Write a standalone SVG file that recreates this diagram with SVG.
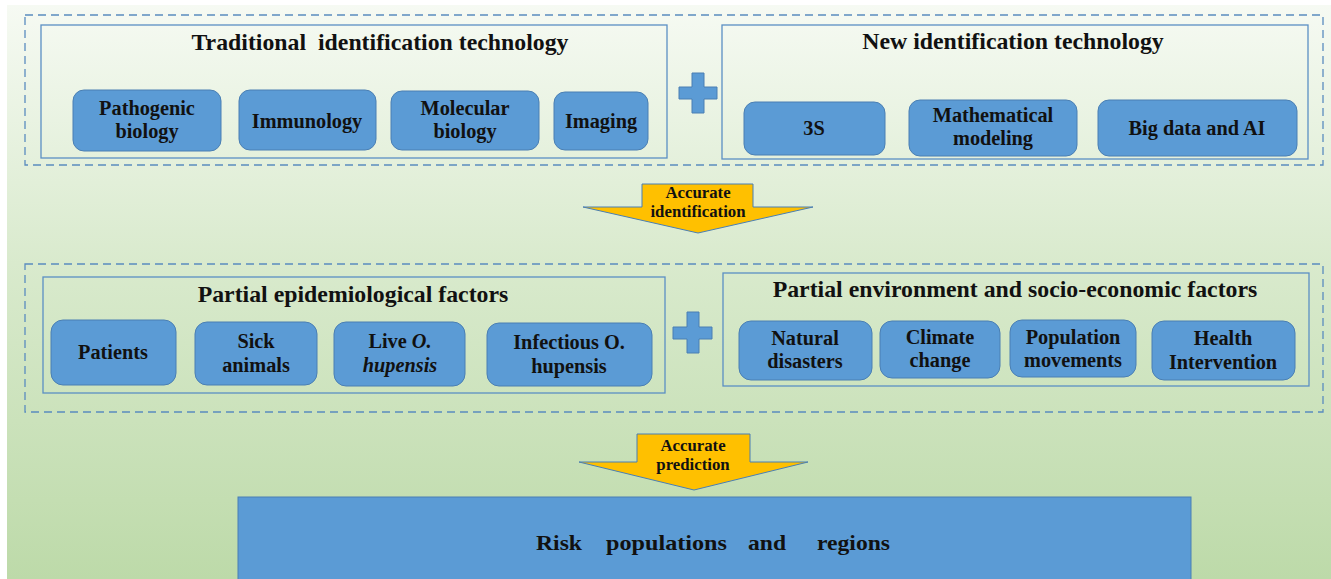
<svg xmlns="http://www.w3.org/2000/svg" width="1331" height="579" viewBox="0 0 1331 579">
  <defs>
    <linearGradient id="bg" x1="0" y1="0" x2="0" y2="1">
      <stop offset="0" stop-color="#f6faf3"/>
      <stop offset="0.45" stop-color="#d9eacd"/>
      <stop offset="1" stop-color="#bddaa9"/>
    </linearGradient>
    <style>
      .dash { fill: none; stroke: #5a8cbf; stroke-width: 1.3; stroke-dasharray: 8 5; }
      .panel { fill: none; stroke: #5b8fc4; stroke-width: 1.3; }
      .node { fill: #5b9bd5; stroke: #4a7fb3; stroke-width: 1; }
      .plus { fill: #5b9bd5; stroke: #4a7fb3; stroke-width: 1; }
      .arrow { fill: #ffc000; stroke: #4a7fb3; stroke-width: 1; }
      text { font-family: "Liberation Serif", "Times New Roman", serif; font-weight: bold; fill: #111; text-anchor: middle; }
      .title { font-size: 23.8px; }
      .label { font-size: 20.3px; }
      .small { font-size: 16.8px; }
      .big { font-size: 21px; text-anchor: start; }
      .it { font-style: italic; }
    </style>
  </defs>

  <!-- page background -->
  <rect x="0" y="0" width="1331" height="579" fill="#ffffff"/>
  <rect x="7" y="5" width="1324" height="574" fill="url(#bg)"/>

  <!-- identification technologies -->
  <g id="identification">
    <rect class="dash" x="25" y="15" width="1298" height="150"/>
    <g id="traditional">
      <rect class="panel" x="41" y="25" width="626" height="133"/>
      <text class="title" x="380" y="50" xml:space="preserve">Traditional  identification technology</text>
    </g>
    <g id="pathogenic-biology">
      <rect class="node" x="73" y="90" width="148" height="61" rx="11"/>
      <text class="label" x="147" y="115">Pathogenic</text>
      <text class="label" x="147" y="138">biology</text>
    </g>
    <g id="immunology">
      <rect class="node" x="239" y="90" width="137" height="60" rx="11"/>
      <text class="label" x="307" y="128">Immunology</text>
    </g>
    <g id="molecular-biology">
      <rect class="node" x="391" y="91" width="148" height="59" rx="11"/>
      <text class="label" x="465" y="115">Molecular</text>
      <text class="label" x="465" y="138">biology</text>
    </g>
    <g id="imaging">
      <rect class="node" x="554" y="92" width="94" height="58" rx="11"/>
      <text class="label" x="601" y="128">Imaging</text>
    </g>
    <g id="plus-1">
      <path class="plus" d="M692,73 H704 V87 H717 V99 H704 V113 H692 V99 H679 V87 H692 Z"/>
    </g>
    <g id="new">
      <rect class="panel" x="722" y="25" width="586" height="134"/>
      <text class="title" x="1013" y="49">New identification technology</text>
    </g>
    <g id="three-s">
      <rect class="node" x="744" y="102" width="141" height="53" rx="11"/>
      <text class="label" x="814" y="135">3S</text>
    </g>
    <g id="mathematical-modeling">
      <rect class="node" x="909" y="100" width="168" height="56" rx="11"/>
      <text class="label" x="993" y="122">Mathematical</text>
      <text class="label" x="993" y="145">modeling</text>
    </g>
    <g id="big-data-ai">
      <rect class="node" x="1098" y="100" width="199" height="56" rx="11"/>
      <text class="label" x="1197" y="135">Big data and AI</text>
    </g>
  </g>

  <!-- factors -->
  <g id="factors">
    <rect class="dash" x="25" y="264" width="1298" height="148"/>
    <g id="epidemiological">
      <rect class="panel" x="43" y="277" width="622" height="116" stroke="#6ea3da"/>
      <text class="title" x="353" y="302">Partial epidemiological factors</text>
    </g>
    <g id="patients">
      <rect class="node" x="51" y="320" width="125" height="65" rx="12"/>
      <text class="label" x="113" y="359">Patients</text>
    </g>
    <g id="sick-animals">
      <rect class="node" x="195" y="322" width="122" height="63" rx="12"/>
      <text class="label" x="256" y="348">Sick</text>
      <text class="label" x="256" y="372">animals</text>
    </g>
    <g id="live-hupensis">
      <rect class="node" x="334" y="322" width="131" height="64" rx="12"/>
      <text class="label" x="400" y="348">Live <tspan class="it">O.</tspan></text>
      <text class="label it" x="400" y="372">hupensis</text>
    </g>
    <g id="infectious-hupensis">
      <rect class="node" x="487" y="323" width="165" height="63" rx="12"/>
      <text class="label" x="569" y="349">Infectious O.</text>
      <text class="label" x="569" y="373">hupensis</text>
    </g>
    <g id="plus-2">
      <path class="plus" d="M687,312 H699 V327 H712 V339 H699 V353 H687 V339 H673 V327 H687 Z"/>
    </g>
    <g id="environment">
      <rect class="panel" x="723" y="273" width="586" height="113"/>
      <text class="title" x="1015" y="297">Partial environment and socio-economic factors</text>
    </g>
    <g id="natural-disasters">
      <rect class="node" x="739" y="321" width="133" height="59" rx="12"/>
      <text class="label" x="805" y="345">Natural</text>
      <text class="label" x="805" y="368">disasters</text>
    </g>
    <g id="climate-change">
      <rect class="node" x="880" y="321" width="120" height="57" rx="12"/>
      <text class="label" x="940" y="344">Climate</text>
      <text class="label" x="940" y="367">change</text>
    </g>
    <g id="population-movements">
      <rect class="node" x="1010" y="320" width="126" height="57" rx="12"/>
      <text class="label" x="1073" y="344">Population</text>
      <text class="label" x="1073" y="367">movements</text>
    </g>
    <g id="health-intervention">
      <rect class="node" x="1152" y="321" width="143" height="59" rx="12"/>
      <text class="label" x="1223" y="345">Health</text>
      <text class="label" x="1223" y="369">Intervention</text>
    </g>
  </g>

  <!-- block arrows between stages -->
  <g id="connectors">
    <g id="accurate-identification">
      <path class="arrow" d="M642,184 H753 V207 H813 L698,233 L583,207 H642 Z"/>
      <text class="small" x="698" y="198">Accurate</text>
      <text class="small" x="698" y="217">identification</text>
    </g>
    <g id="accurate-prediction">
      <path class="arrow" d="M637,434 H750 V462 H808 L694,490 L579,462 H637 Z"/>
      <text class="small" x="693" y="451">Accurate</text>
      <text class="small" x="693" y="470">prediction</text>
    </g>
  </g>

  <!-- outcome -->
  <g id="risk">
    <rect x="238" y="497" width="953" height="90" fill="#5b9bd5" stroke="#4a7fb3" stroke-width="1"/>
    <text class="big" x="536" y="550" textLength="46" lengthAdjust="spacingAndGlyphs">Risk</text>
    <text class="big" x="606" y="550" textLength="121" lengthAdjust="spacingAndGlyphs">populations</text>
    <text class="big" x="748" y="550" textLength="38" lengthAdjust="spacingAndGlyphs">and</text>
    <text class="big" x="817" y="550" textLength="73" lengthAdjust="spacingAndGlyphs">regions</text>
  </g>
</svg>
